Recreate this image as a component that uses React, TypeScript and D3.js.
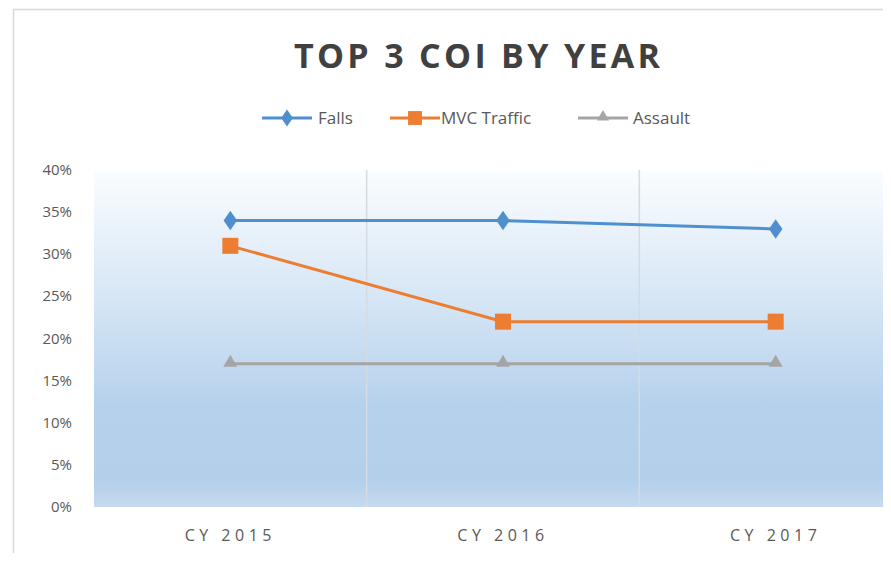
import React from 'react';
import * as d3 from 'd3';

const years = ['CY 2015', 'CY 2016', 'CY 2017'];
const falls = [0.34, 0.34, 0.33];
const mvcTraffic = [0.31, 0.22, 0.22];
const assault = [0.17, 0.17, 0.17];
const yTicks = [0, 0.05, 0.1, 0.15, 0.2, 0.25, 0.3, 0.35, 0.4];

const series = [
    { name: 'Falls', values: falls, color: '#4f8fd0', marker: 'diamond' },
    { name: 'MVC Traffic', values: mvcTraffic, color: '#ed7d31', marker: 'square' },
    { name: 'Assault', values: assault, color: '#a5a5a5', marker: 'triangle' },
];

const W = 891;
const H = 561;
const plot = { left: 94, right: 912, top: 170, bottom: 507 };

function Marker({ type, x, y, color, small }: { type: string; x: number; y: number; color: string; small?: boolean }) {
    const k = small ? 0.75 : 1;
    if (type === 'diamond') {
        const p = d3.symbol(d3.symbolDiamond, 120 * k)();
        return <path d={p || ''} transform={`translate(${x},${y}) scale(1.15,0.95)`} fill={color} />;
    }
    if (type === 'square') {
        const s = 16 * Math.sqrt(k);
        return <rect x={x - s / 2} y={y - s / 2} width={s} height={s} fill={color} />;
    }
    const p = d3.symbol(d3.symbolTriangle, 85 * k)();
    return <path d={p || ''} transform={`translate(${x},${y - 1})`} fill={color} />;
}

export default function App() {
    const x = d3.scaleBand<string>().domain(years).range([plot.left, plot.right]);
    const y = d3.scaleLinear().domain([0, 0.4]).range([plot.bottom, plot.top]);
    const cx = (d: string) => (x(d) ?? 0) + x.bandwidth() / 2;

    const line = d3.line<number>()
        .x((_, i) => cx(years[i]))
        .y(d => y(d));

    const fmt = d3.format('.0%');

    // legend entries: line start x, text x
    const legend = [
        { s: series[0], x0: 262, tx: 318 },
        { s: series[1], x0: 390, tx: 441 },
        { s: series[2], x0: 578, tx: 633 },
    ];

    return (
        <div style={{ margin: -8 }}>
            <svg width={W} height={H} style={{ display: 'block', fontFamily: '"Open Sans", sans-serif' }}>
                <defs>
                    <linearGradient id="bg" x1="0" y1="0" x2="0" y2="1">
                        <stop offset="0%" stopColor="#fbfdff" />
                        <stop offset="35%" stopColor="#d9e8f6" />
                        <stop offset="70%" stopColor="#b6d1ec" />
                        <stop offset="92%" stopColor="#b3cfea" />
                        <stop offset="100%" stopColor="#c6daef" />
                    </linearGradient>
                </defs>
                <rect x={0} y={0} width={W} height={H} fill="#ffffff" />
                <rect x={13.5} y={9.5} width={W} height={H - 13} fill="#ffffff" stroke="#d9d9d9" strokeWidth={1.5} />

                <text x={477} y={68} textAnchor="middle" fontSize={34} fontWeight={700}
                    fill="#404040" textLength={366} lengthAdjust="spacing">
                    TOP 3 COI BY YEAR
                </text>

                {legend.map(({ s, x0, tx }) => (
                    <g key={s.name}>
                        <line x1={x0} x2={x0 + 50} y1={118} y2={118} stroke={s.color} strokeWidth={3} />
                        <Marker type={s.marker} x={x0 + 25} y={118} color={s.color} small />
                        <text x={tx} y={124} fontSize={17} fill="#595959">{s.name}</text>
                    </g>
                ))}

                <rect x={plot.left} y={plot.top} width={plot.right - plot.left} height={plot.bottom - plot.top} fill="url(#bg)" />

                {years.slice(1).map(d => (
                    <line key={d} x1={x(d)} x2={x(d)} y1={plot.top} y2={plot.bottom} stroke="#d4dbe3" strokeWidth={1.5} />
                ))}

                {yTicks.map(t => (
                    <text key={t} x={72} y={y(t) + 5} textAnchor="end" fontSize={15} fill="#595959">{fmt(t)}</text>
                ))}

                {years.map(d => (
                    <text key={d} x={cx(d)} y={541} textAnchor="middle" fontSize={16} fill="#595959" letterSpacing={4.5}>{d}</text>
                ))}

                {series.map(s => (
                    <g key={s.name}>
                        <path d={line(s.values) || ''} fill="none" stroke={s.color} strokeWidth={3} />
                        {s.values.map((v, i) => (
                            <Marker key={i} type={s.marker} x={cx(years[i])} y={y(v)} color={s.color} />
                        ))}
                    </g>
                ))}
            </svg>
        </div>
    );
}
